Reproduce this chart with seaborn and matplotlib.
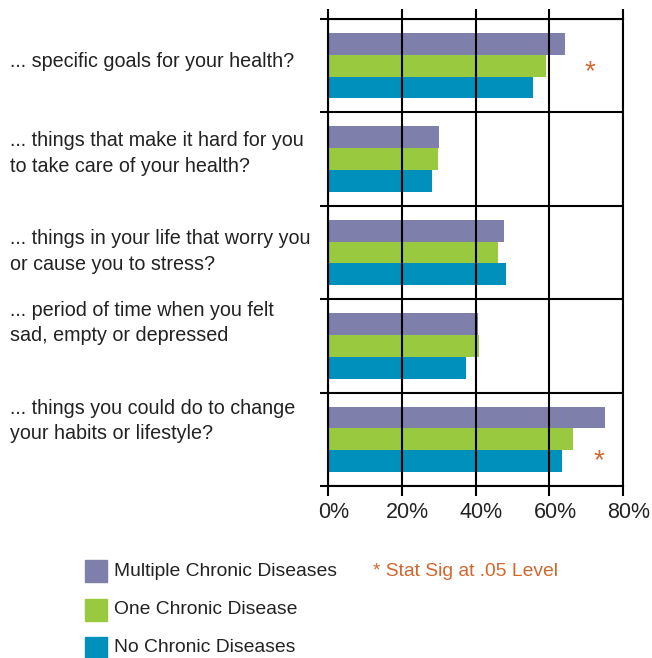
import matplotlib
matplotlib.use("Agg")
import matplotlib.pyplot as plt
import matplotlib.transforms as mtransforms
import seaborn as sns
import pandas as pd
import numpy as np

categories = [
    "... specific goals for your health?",
    "... things that make it hard for you\nto take care of your health?",
    "... things in your life that worry you\nor cause you to stress?",
    "... period of time when you felt\nsad, empty or depressed",
    "... things you could do to change\nyour habits or lifestyle?",
]
series = ["Multiple Chronic Diseases", "One Chronic Disease", "No Chronic Diseases"]
multiple = [64.3, 30.1, 47.7, 40.8, 75.0]
one = [59.1, 29.8, 46.0, 41.0, 66.5]
none_ = [55.5, 28.3, 48.3, 37.5, 63.5]
x_ticks = [0, 20, 40, 60, 80]
x_ticklabels = ["0%", "20%", "40%", "60%", "80%"]
sig_groups = [0, 4]
sig_note = "* Stat Sig at .05 Level"

colors = ["#7F7FAB", "#99C93E", "#0090BC"]
star_color = "#D2672F"
text_color = "#222222"

rows = []
for ci, c in enumerate(categories):
    for s, vals in zip(series, [multiple, one, none_]):
        rows.append({"cat": ci, "series": s, "value": vals[ci]})
df = pd.DataFrame(rows)

sns.set_style("white")
plt.rcParams["font.family"] = ["Liberation Sans", "DejaVu Sans"]

fig = plt.figure(figsize=(6.52, 6.58), dpi=100)
ax = fig.add_axes([328 / 652, 1 - 486 / 658, 295 / 652, 467 / 658])

sns.barplot(data=df, x="value", y="cat", hue="series", orient="h",
            palette=colors, hue_order=series, width=0.7, ax=ax,
            legend=False, saturation=1, errorbar=None)
for p in ax.patches:
    p.set_edgecolor("none")

ax.set_xlim(0, 80)
ax.set_ylim(4.5, -0.5)
ax.set_xlabel("")
ax.set_ylabel("")

ax.set_xticks(x_ticks)
ax.set_xticklabels([])
# tick labels drawn slightly right of their ticks, as in the original
shift = mtransforms.ScaledTranslation(6 / 100, 0, fig.dpi_scale_trans)
xlab_trans = mtransforms.blended_transform_factory(ax.transData, fig.transFigure) + shift
for xv, lab in zip(x_ticks, x_ticklabels):
    ax.text(xv, 1 - 513 / 658, lab, transform=xlab_trans, ha="center",
            va="center", fontsize=15.5, color=text_color, clip_on=False)
ax.set_yticks([])
ax.set_yticks(np.arange(-0.5, 5.0, 1.0), minor=True)
ax.tick_params(axis="x", which="major", direction="out", length=7, width=1.5,
               color="black", top=True, bottom=True)
ax.tick_params(axis="y", which="minor", direction="out", length=6, width=1.5,
               color="black", left=True)
ax.grid(True, axis="x", which="major", color="black", linewidth=1.5)
ax.grid(True, axis="y", which="minor", color="black", linewidth=1.5)
ax.set_axisbelow(False)
for sp in ax.spines.values():
    sp.set_color("black")
    sp.set_linewidth(1.5)

# category labels, left aligned at the figure edge
trans = mtransforms.blended_transform_factory(fig.transFigure, ax.transData)
label_offsets = [-0.04, -0.06, -0.01, -0.245, -0.196]
for i, (lab, off) in enumerate(zip(categories, label_offsets)):
    ax.text(10 / 652, i + off, lab, transform=trans, ha="left", va="center",
            fontsize=14.2, color=text_color, linespacing=1.42)

# significance stars
star_pos = {0: (70.9, 0.07), 4: (73.4, 4.23)}
for g in sig_groups:
    sx, sy = star_pos[g]
    ax.text(sx, sy, "*", ha="center", va="center", fontsize=20,
            color=star_color)

# legend
for i, (s, c) in enumerate(zip(series, colors)):
    yc = 1 - (571 + i * 38.5) / 658
    fig.patches.append(plt.Rectangle((85 / 652, yc - 11 / 658), 22 / 652, 22 / 658,
                                     transform=fig.transFigure, color=c))
    fig.text(114 / 652, yc, s, ha="left", va="center", fontsize=13.9,
             color=text_color)
fig.text(373 / 652, 1 - 572 / 658, sig_note, ha="left", va="center",
         fontsize=13.9, color=star_color)

fig.savefig("out.png", dpi=100)
